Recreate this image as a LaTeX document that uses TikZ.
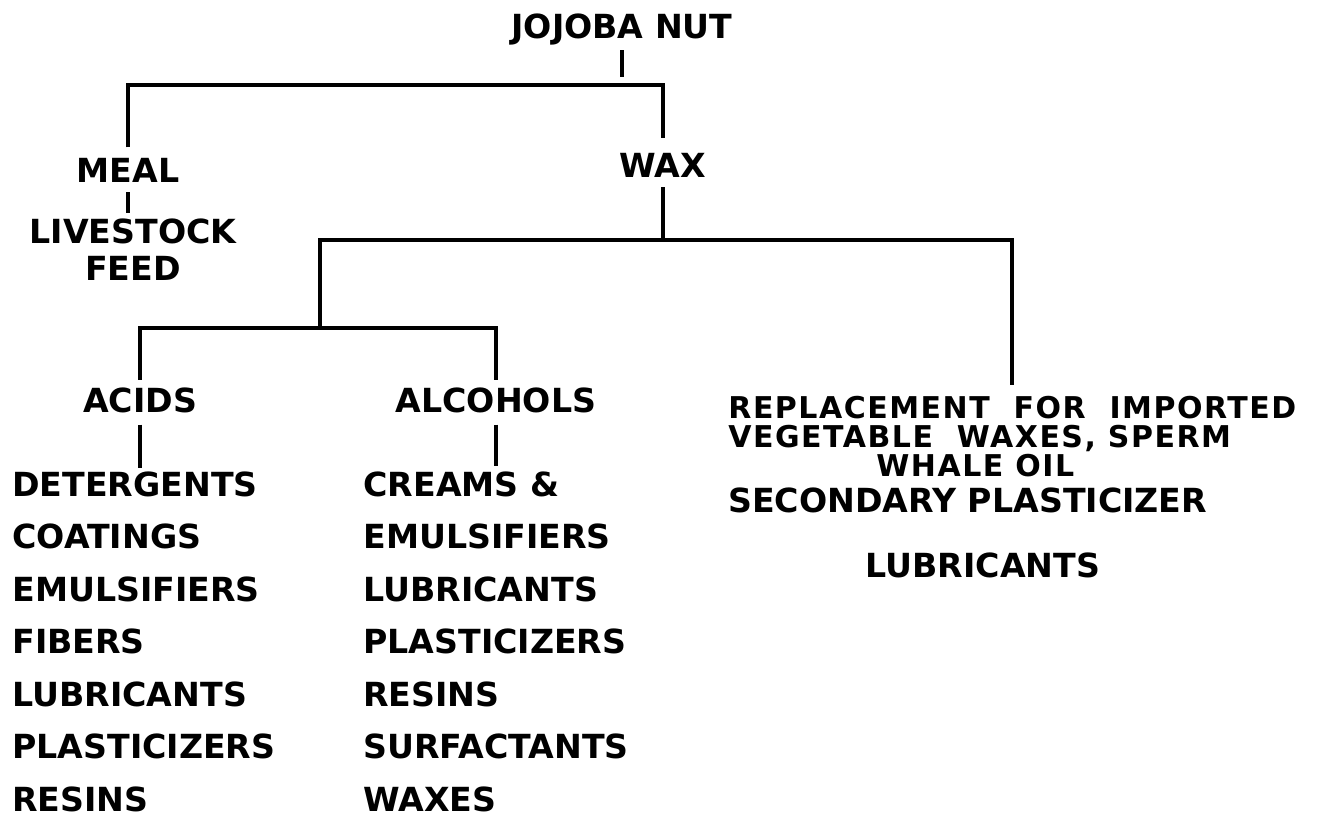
\documentclass[tikz,border=0pt]{standalone}
\usepackage{fontspec}
\setmainfont{DejaVu Sans}
\usepackage{tikz}

\begin{document}
\begin{tikzpicture}[x=0.5pt, y=-0.5pt,
    lbl/.style={inner sep=0pt, font=\fontsize{16.6}{18.5}\selectfont\bfseries, text height=12.1pt, text depth=0pt},
    link/.style={line width=2pt}]
            \useasboundingbox (0,0) rectangle (1328,818);

            % Top of the tree
            \node[lbl] (jojoba) at (622,26) {JOJOBA NUT};
            \node[lbl] (meal) at (128,170) {MEAL};
            \node[lbl, anchor=north, align=center, text height=, text depth=] (feed) at (133,218) {LIVESTOCK\\FEED};
            \node[lbl] (wax) at (663,165) {WAX};
            \coordinate (jtop) at (622,77);
            \coordinate (c2) at (663,85);
            \draw[link] ([yshift=-6pt]jojoba.south) -- (jtop);
            \draw[link] ([yshift=5pt]meal.north) |- (c2) -- ([yshift=7pt]wax.north);
            \draw[link] ([yshift=-5pt]meal.south) -- ([yshift=2.5pt]meal.south |- feed.north);

            % Wax branches
            \node[lbl] (acids) at (140,400) {ACIDS};
            \node[lbl] (alcohols) at (496,400) {ALCOHOLS};
            \coordinate (k1) at (320,328);
            \coordinate (k2) at (663,240);
            \coordinate (k3) at (1012,385);
            \draw[link] ([yshift=-5pt]wax.south) -- (k2);
            \draw[link] (k1) |- (k2) -| (k3);
            \draw[link] ([yshift=4pt]acids.north) |- (k1) -| ([yshift=4pt]alcohols.north);

            % Uses of the acids and alcohols
            \foreach \t [count=\i] in {DETERGENTS, COATINGS, EMULSIFIERS, FIBERS, LUBRICANTS, PLASTICIZERS, RESINS}
                \node[lbl, anchor=west] (a\i) at (12,{484+52.5*(\i-1)}) {\t};
            \foreach \t [count=\i] in {CREAMS \&, EMULSIFIERS, LUBRICANTS, PLASTICIZERS, RESINS, SURFACTANTS, WAXES}
                \node[lbl, anchor=west] (b\i) at (363,{484+52.5*(\i-1)}) {\t};
            \draw[link] ([yshift=-6pt]acids.south) -- ([yshift=2pt]acids.south |- a1.north);
            \draw[link] ([yshift=-6pt]alcohols.south) -- ([yshift=3pt]alcohols.south |- b1.north);

            % Uses of the wax itself
            \node[lbl, anchor=north west, align=left, text height=, text depth=,
                  font=\fontsize{15}{14.5}\selectfont\bfseries\addfontfeature{LetterSpace=5}] (repl) at (728,396)
                {REPLACEMENT~~FOR~~IMPORTED\\VEGETABLE~~WAXES,~SPERM\\\hspace*{74pt}WHALE OIL};
            \node[lbl, anchor=west] (second) at (728,500) {SECONDARY PLASTICIZER};
            \node[lbl] (lubr) at (983,565) {LUBRICANTS};
        \end{tikzpicture}
\end{document}
